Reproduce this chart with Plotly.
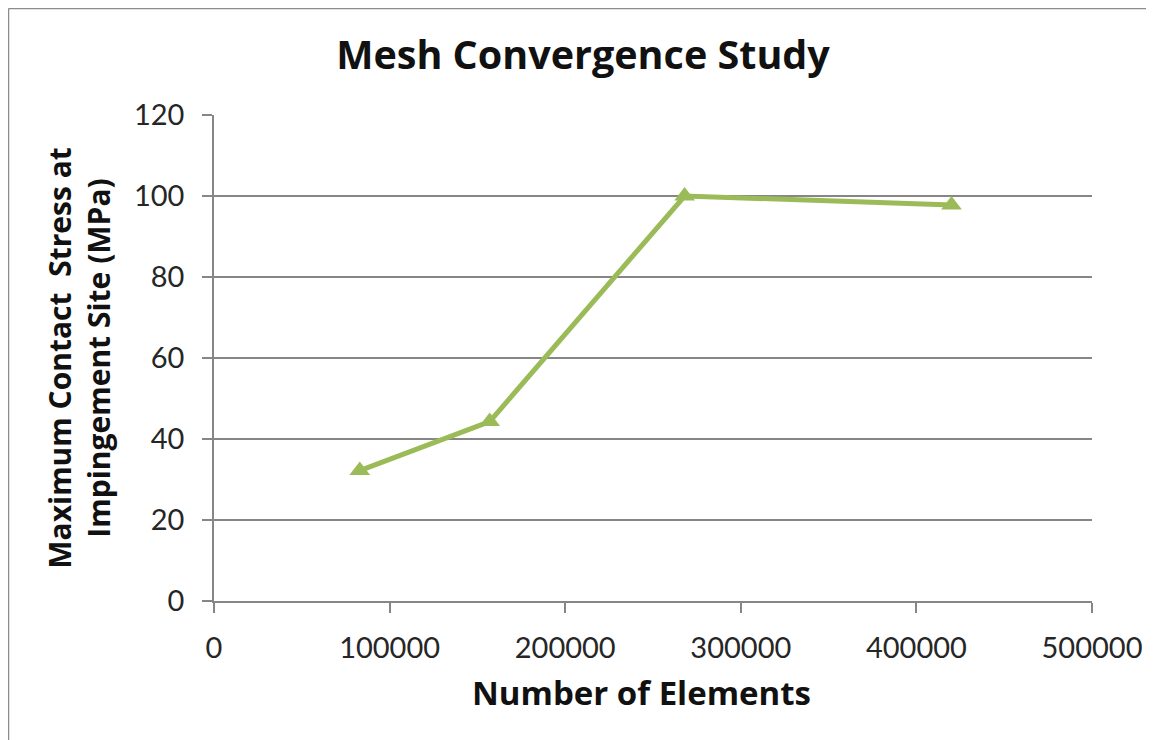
import plotly.graph_objs as go

# mesh convergence data
elements = [83000, 157000, 268000, 420000]
stress_mpa = [32.2, 44.3, 100.0, 97.8]

x_ticks = [0, 100000, 200000, 300000, 400000, 500000]
y_ticks = [0, 20, 40, 60, 80, 100, 120]

W, H = 1154, 740
# the page body adds an 8px offset, margins are set so the plot lands where the reference has it
L, R, T, B = 206, 70, 107, 147
pw, ph = W - L - R, H - T - B

fig = go.Figure(
    data=[go.Scatter(x=elements, y=stress_mpa, mode='lines+markers',
                     line=dict(color='#9BBB59', width=5),
                     marker=dict(symbol='triangle-up', size=18, color='#9BBB59'),
                     showlegend=False)])

# outer chart border (top and left edges)
def px_x(p):
    return (p - L) / pw
def px_y(p):
    return (H - B - p) / ph

fig.add_shape(type='line', xref='paper', yref='paper', x0=px_x(0.5), x1=px_x(W + 5),
              y0=px_y(0.5), y1=px_y(0.5), line=dict(color='#8c8c8c', width=1.5))
fig.add_shape(type='line', xref='paper', yref='paper', x0=px_x(0.5), x1=px_x(0.5),
              y0=px_y(0.5), y1=px_y(H + 5), line=dict(color='#8c8c8c', width=1.5))

# x axis title placed as annotation (it sits a little left of the plot centre)
fig.add_annotation(text='<b>Number of Elements</b>', xref='paper', yref='paper',
                   x=px_x(641 - 8), y=px_y(692 - 8), xanchor='center', yanchor='middle',
                   showarrow=False, font=dict(family='Open Sans', size=33, color='#111111'))

fig.update_layout(
    width=W, height=H,
    paper_bgcolor='white', plot_bgcolor='white',
    margin=dict(l=L, r=R, t=T, b=B),
    font=dict(family='Lato, Open Sans, sans-serif', color='#262626'),
    title=dict(text='<b>Mesh Convergence Study</b>', x=(583 - 8) / W, xanchor='center',
               y=1 - 47 / H, yanchor='middle', yref='container',
               font=dict(family='Open Sans', size=39.5, color='#111111')),
)
fig.update_xaxes(range=[0, 500000], tickvals=x_ticks, ticktext=[str(v) for v in x_ticks],
                 showgrid=False, zeroline=False, showline=True, linecolor='#868686', linewidth=1.5,
                 ticks='outside', ticklen=10, tickcolor='#868686', tickwidth=1.5,
                 ticklabelstandoff=10,
                 tickfont=dict(size=29, color='#262626'))
fig.update_yaxes(range=[0, 120], tickvals=y_ticks,
                 showgrid=True, gridcolor='#868686', gridwidth=1.5, zeroline=False,
                 showline=True, linecolor='#868686', linewidth=1.5,
                 ticks='outside', ticklen=10, tickcolor='#868686', tickwidth=1.5,
                 ticklabelstandoff=12,
                 tickfont=dict(size=29, color='#262626'),
                 title=dict(text='<b>Maximum Contact  Stress at<br>Impingement Site (MPa)</b>',
                            standoff=14, font=dict(family='Open Sans', size=30, color='#111111')))

fig.write_html("out.html")
